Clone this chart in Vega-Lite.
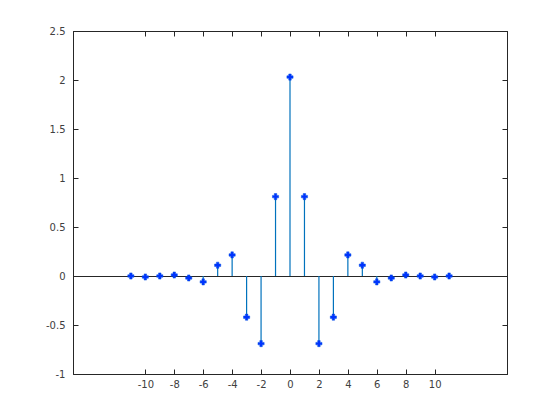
{
  "$schema": "https://vega.github.io/schema/vega-lite/v6.json",
  "width": 434,
  "height": 343,
  "autosize": "none",
  "padding": {"left": 73, "top": 31, "right": 53, "bottom": 46},
  "background": "white",
  "config": {
    "view": {"stroke": "#262626", "strokeWidth": 1},
    "axis": {
      "grid": false,
      "domain": true,
      "domainColor": "#262626",
      "tickColor": "#262626",
      "tickSize": -5,
      "labelFont": "DejaVu Sans",
      "labelFontSize": 10,
      "labelColor": "#404040",
      "title": null
    }
  },
  "datasets": {
    "stem": [
      {"n": -11, "v": 0.0},
      {"n": -10, "v": -0.01},
      {"n": -9, "v": 0.0},
      {"n": -8, "v": 0.01},
      {"n": -7, "v": -0.02},
      {"n": -6, "v": -0.06},
      {"n": -5, "v": 0.11},
      {"n": -4, "v": 0.215},
      {"n": -3, "v": -0.42},
      {"n": -2, "v": -0.69},
      {"n": -1, "v": 0.81},
      {"n": 0, "v": 2.03},
      {"n": 1, "v": 0.81},
      {"n": 2, "v": -0.69},
      {"n": 3, "v": -0.42},
      {"n": 4, "v": 0.215},
      {"n": 5, "v": 0.11},
      {"n": 6, "v": -0.06},
      {"n": 7, "v": -0.02},
      {"n": 8, "v": 0.01},
      {"n": 9, "v": 0.0},
      {"n": 10, "v": -0.01},
      {"n": 11, "v": 0.0}
    ],
    "baseline": [{"base": 0}]
  },
  "layer": [
    {
      "data": {"name": "baseline"},
      "mark": {"type": "rule", "color": "#262626", "strokeWidth": 1, "yOffset": 0.5},
      "encoding": {
        "y": {"field": "base", "type": "quantitative", "scale": {"domain": [-1, 2.5], "nice": false, "zero": false},
              "axis": {"orient": "left", "values": [-1, -0.5, 0, 0.5, 1, 1.5, 2, 2.5], "labelExpr": "datum.value + ''", "labelPadding": 13}}
      }
    },
    {
      "data": {"name": "stem"},
      "mark": {"type": "rule", "color": "#0072BD", "strokeWidth": 1.2},
      "encoding": {
        "x": {"field": "n", "type": "quantitative", "scale": {"domain": [-15, 15], "nice": false, "zero": false},
              "axis": {"orient": "bottom", "values": [-10, -8, -6, -4, -2, 0, 2, 4, 6, 8, 10], "labelExpr": "datum.value + ''", "labelPadding": 10}},
        "y": {"field": "v", "type": "quantitative", "scale": {"domain": [-1, 2.5], "nice": false, "zero": false}, "axis": null},
        "y2": {"datum": 0}
      }
    },
    {
      "data": {"name": "stem"},
      "mark": {"type": "point", "shape": "cross", "filled": true, "size": 38, "color": "#0033FF", "opacity": 1, "stroke": "#0050E0", "strokeWidth": 0.5},
      "encoding": {
        "x": {"field": "n", "type": "quantitative", "scale": {"domain": [-15, 15], "nice": false, "zero": false},
              "axis": {"orient": "top", "values": [-10, -8, -6, -4, -2, 0, 2, 4, 6, 8, 10], "labels": false}},
        "y": {"field": "v", "type": "quantitative", "scale": {"domain": [-1, 2.5], "nice": false, "zero": false},
              "axis": {"orient": "right", "values": [-1, -0.5, 0, 0.5, 1, 1.5, 2, 2.5], "labels": false}}
      }
    }
  ],
  "resolve": {"axis": {"x": "independent", "y": "independent"}}
}
